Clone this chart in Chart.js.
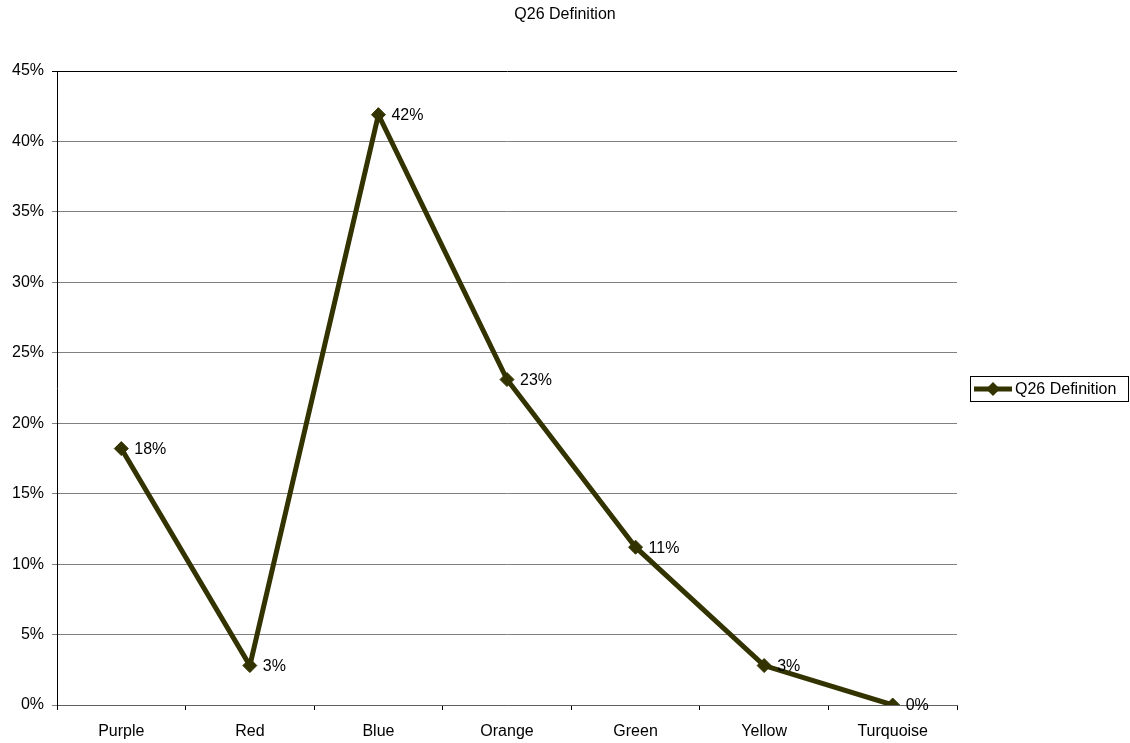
<!DOCTYPE html>
<html>
<head>
<meta charset="utf-8">
<script src="https://cdn.jsdelivr.net/npm/chart.js@4/dist/chart.umd.min.js"></script>
<style>
  html, body { margin: 0; padding: 0; background: #fff; }
  #wrap { width: 1130px; height: 743px; position: relative; }
</style>
</head>
<body>
<div id="wrap"><canvas id="c" width="1130" height="743"></canvas></div>
<script>
// Survey answers for Q26, share of respondents per colour (percent)
const categories = ['Purple', 'Red', 'Blue', 'Orange', 'Green', 'Yellow', 'Turquoise'];
const seriesName = 'Q26 Definition';
const chartTitle = 'Q26 Definition';
const shares = [18.2, 2.8, 41.9, 23.1, 11.2, 2.8, 0];
const yTicks = [0, 5, 10, 15, 20, 25, 30, 35, 40, 45];

const LINE = '#333300';
const FONT = 'Liberation Sans, Arial, sans-serif';

// Title centred across the whole canvas
const pageTitle = {
  id: 'pageTitle',
  afterDraw(chart) {
    const ctx = chart.ctx;
    ctx.save();
    ctx.font = '16px ' + FONT;
    ctx.fillStyle = '#000';
    ctx.textAlign = 'center';
    ctx.textBaseline = 'middle';
    ctx.fillText(chartTitle, chart.width / 2, 15);
    ctx.restore();
  }
};

// Value labels to the right of each marker
const valueLabels = {
  id: 'valueLabels',
  afterDatasetsDraw(chart) {
    const ctx = chart.ctx;
    const meta = chart.getDatasetMeta(0);
    ctx.save();
    ctx.font = '16px ' + FONT;
    ctx.fillStyle = '#000';
    ctx.textBaseline = 'middle';
    ctx.textAlign = 'left';
    meta.data.forEach((pt, i) => {
      ctx.fillText(Math.round(shares[i]) + '%', pt.x + 13, pt.y + 1);
    });
    ctx.restore();
  }
};

// Boxed legend on the right-hand side
const sideLegend = {
  id: 'sideLegend',
  afterDraw(chart) {
    const ctx = chart.ctx;
    const x = 970.5, y = 376.5, w = 158, h = 25;
    ctx.save();
    ctx.strokeStyle = '#000';
    ctx.lineWidth = 1;
    ctx.strokeRect(x, y, w, h);
    const cy = y + h / 2;
    ctx.strokeStyle = LINE;
    ctx.lineWidth = 5;
    ctx.beginPath();
    ctx.moveTo(974, cy);
    ctx.lineTo(1012, cy);
    ctx.stroke();
    ctx.fillStyle = LINE;
    ctx.beginPath();
    ctx.moveTo(993, cy - 7);
    ctx.lineTo(1000, cy);
    ctx.lineTo(993, cy + 7);
    ctx.lineTo(986, cy);
    ctx.closePath();
    ctx.fill();
    ctx.fillStyle = '#000';
    ctx.font = '16px ' + FONT;
    ctx.textBaseline = 'middle';
    ctx.fillText(seriesName, 1015, cy + 1);
    ctx.restore();
  }
};

new Chart(document.getElementById('c'), {
  type: 'line',
  data: {
    labels: categories,
    datasets: [{
      label: seriesName,
      data: shares,
      borderColor: LINE,
      backgroundColor: LINE,
      borderWidth: 5,
      pointStyle: 'rectRot',
      pointRadius: 7,
      pointBorderWidth: 1,
      pointBackgroundColor: LINE,
      pointBorderColor: LINE,
      tension: 0
    }]
  },
  options: {
    responsive: false,
    animation: false,
    devicePixelRatio: 1,
    layout: { padding: { left: 0, right: 173, top: 71, bottom: 0 } },
    plugins: {
      legend: { display: false },
      tooltip: { enabled: false },
      title: { display: false }
    },
    scales: {
      x: {
        offset: true,
        afterFit(scale) { scale.height = 38; },
        grid: {
          offset: true,
          drawOnChartArea: false,
          drawTicks: true,
          tickLength: 5,
          color: '#000'
        },
        border: { color: '#606060', width: 1 },
        ticks: {
          color: '#000',
          font: { family: FONT, size: 16 },
          padding: 12,
          maxRotation: 0,
          autoSkip: false
        }
      },
      y: {
        min: 0,
        max: 45,
        afterFit(scale) { scale.width = 57; },
        afterBuildTicks(scale) { scale.ticks = yTicks.map(v => ({ value: v })); },
        grid: {
          color: (c) => (c.tick && c.tick.value === 45 ? '#000' : '#808080'),
          tickLength: 5,
          lineWidth: 1
        },
        border: { color: '#000', width: 1 },
        ticks: {
          color: '#000',
          font: { family: FONT, size: 16 },
          padding: 8,
          callback: (v) => v + '%'
        }
      }
    }
  },
  plugins: [valueLabels, sideLegend, pageTitle]
});
</script>
</body>
</html>
